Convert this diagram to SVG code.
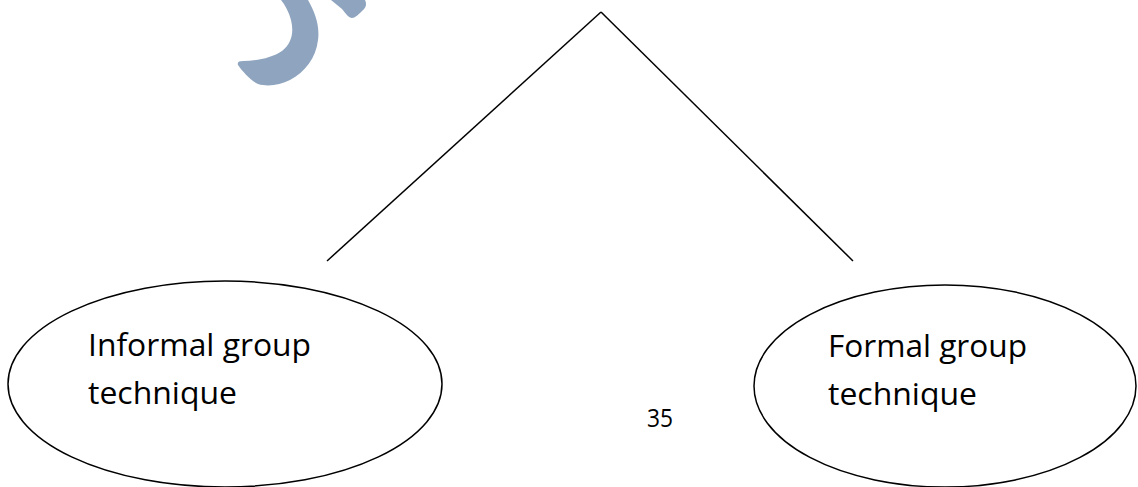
<svg xmlns="http://www.w3.org/2000/svg" width="1138" height="487" viewBox="0 0 1138 487">
<style>
.node{fill:#fff;stroke:#000;stroke-width:1.5}
.lbl{font-family:"Open Sans","Liberation Sans",sans-serif;font-size:31px;fill:#000}
.conn{stroke:#000;stroke-width:1.5;fill:none}
.mark{fill:#8fa5bf}
</style>
<rect width="1138" height="487" fill="#fff"/>
<g id="watermark">
<path class="mark" d="M308,0 C315,12 320,26 318,40 C316,58 305,72 290,80 C280,85 268,87 258,84 C250,80 243,72 238,65 C237,62 239,61 243,61 C256,61 272,58 282,51 C292,43 294,32 291,20 C289,12 285,5 281,0 Z"/>
<path class="mark" d="M331,0 L365,0 C367,4 366,8 362,11 C358,15 355,18 352,18 C349,18 346,14 342,9 Z"/>
</g>
<g id="connectors">
<line class="conn" x1="601" y1="12" x2="327" y2="261"/>
<line class="conn" x1="601" y1="12" x2="853" y2="261"/>
</g>
<g id="informal">
<ellipse class="node" cx="225" cy="384" rx="217" ry="103"/>
<text class="lbl" x="88" y="356" textLength="223" lengthAdjust="spacingAndGlyphs">Informal group</text>
<text class="lbl" x="88" y="404" textLength="149" lengthAdjust="spacingAndGlyphs">technique</text>
</g>
<g id="formal">
<ellipse class="node" cx="945" cy="386" rx="191" ry="101"/>
<text class="lbl" x="828" y="357" textLength="199" lengthAdjust="spacingAndGlyphs">Formal group</text>
<text class="lbl" x="828" y="405" textLength="149" lengthAdjust="spacingAndGlyphs">technique</text>
</g>
<text id="page" class="lbl" x="647" y="427" style="font-size:26px" textLength="26" lengthAdjust="spacingAndGlyphs">35</text>
</svg>
